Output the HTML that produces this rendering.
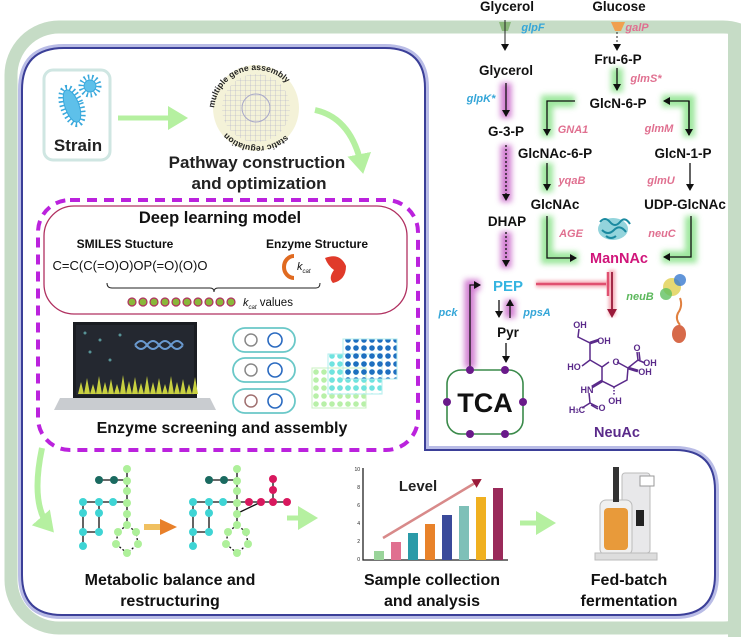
<!DOCTYPE html>
<html><head><meta charset="utf-8"><style>
html,body{margin:0;padding:0;background:#fff;width:741px;height:641px;overflow:hidden}
svg{display:block}
text{font-family:"Liberation Sans",Arial,sans-serif}
</style></head><body>
<svg width="741" height="641" viewBox="0 0 741 641" xmlns="http://www.w3.org/2000/svg">
<defs>
<filter id="blur" x="-50%" y="-50%" width="200%" height="200%"><feGaussianBlur stdDeviation="3"/></filter>
<filter id="blur2" x="-50%" y="-50%" width="200%" height="200%"><feGaussianBlur stdDeviation="1.5"/></filter>
<marker id="ah" markerWidth="8" markerHeight="8" refX="6" refY="4" orient="auto" markerUnits="userSpaceOnUse"><path d="M0,0 L7,4 L0,8 Z" fill="#111"/></marker>
<marker id="ahr" markerWidth="10" markerHeight="10" refX="7" refY="5" orient="auto" markerUnits="userSpaceOnUse"><path d="M0,0 L9,5 L0,10 Z" fill="#9a1a3a"/></marker>
<marker id="ahg" markerWidth="22" markerHeight="24" refX="14" refY="12" orient="auto" markerUnits="userSpaceOnUse"><path d="M0,0 L20,12 L0,24 Z" fill="#b5f0a0"/></marker>
<pattern id="grid" width="5" height="5" patternUnits="userSpaceOnUse"><path d="M0,0 H5 M0,0 V5" stroke="#a8a8c8" stroke-width="0.6"/></pattern>
<pattern id="dotsB" width="8" height="8" patternUnits="userSpaceOnUse"><circle cx="4" cy="4" r="2.8" fill="#1f6fc0"/></pattern>
<pattern id="dotsC" width="8" height="8" patternUnits="userSpaceOnUse"><circle cx="4" cy="4" r="2.8" fill="#6fe3e0"/></pattern>
<pattern id="dotsG" width="8" height="8" patternUnits="userSpaceOnUse"><circle cx="4" cy="4" r="2.8" fill="#b8f0a8"/></pattern>
<path id="arcTop" d="M214,112 A42,42 0 0 1 298,112"/>
<path id="arcBot" d="M222,100 A36,36 0 0 0 290,100"/>
</defs>

<!-- outer green frame -->
<rect x="11" y="27" width="760" height="601" rx="48" fill="none" stroke="#c6dcc6" stroke-width="13"/>
<rect x="728" y="27" width="14" height="610" fill="#c6dcc6"/>

<!-- blue frame -->
<path d="M22,90 Q22,48 64,48 L385,48 Q425,48 425,88 L425,450 L675,450 Q715,450 715,490 L715,575 Q715,615 675,615 L62,615 Q22,615 22,575 Z" fill="none" stroke="#b9bce6" stroke-width="8"/>
<path d="M22,90 Q22,48 64,48 L385,48 Q425,48 425,88 L425,450 L675,450 Q715,450 715,490 L715,575 Q715,615 675,615 L62,615 Q22,615 22,575 Z" fill="#fff" stroke="#3b3f98" stroke-width="2"/>

<!-- ===== Pathway (right) ===== -->
<g font-weight="bold" font-size="13.5" fill="#111" text-anchor="middle">
<text x="507" y="11">Glycerol</text>
<text x="619" y="11">Glucose</text>
<text x="506" y="75">Glycerol</text>
<text x="618" y="64">Fru-6-P</text>
<text x="618" y="108">GlcN-6-P</text>
<text x="506" y="136">G-3-P</text>
<text x="555" y="158">GlcNAc-6-P</text>
<text x="683" y="158">GlcN-1-P</text>
<text x="555" y="209">GlcNAc</text>
<text x="685" y="209">UDP-GlcNAc</text>
<text x="507" y="226">DHAP</text>
<text x="508" y="337">Pyr</text>
<text x="619" y="263" fill="#d0157a" font-size="14.5">ManNAc</text>
<text x="508" y="291" fill="#35b4e0" font-size="15">PEP</text>
<text x="617" y="437" fill="#5a2a8a" font-size="14.5">NeuAc</text>
</g>
<g font-weight="bold" font-style="italic" font-size="11" text-anchor="middle">
<text x="533" y="31" fill="#35a6d8">glpF</text>
<text x="637" y="31" fill="#e07090">galP</text>
<text x="646" y="82" fill="#e07090">glmS*</text>
<text x="481" y="102" fill="#35a6d8">glpK*</text>
<text x="573" y="133" fill="#e07090">GNA1</text>
<text x="659" y="132" fill="#e07090">glmM</text>
<text x="572" y="184" fill="#e07090">yqaB</text>
<text x="661" y="184" fill="#e07090">glmU</text>
<text x="571" y="237" fill="#e07090">AGE</text>
<text x="662" y="237" fill="#e07090">neuC</text>
<text x="640" y="300" fill="#5cb85c">neuB</text>
<text x="448" y="316" fill="#35a6d8">pck</text>
<text x="537" y="316" fill="#35a6d8">ppsA</text>
</g>
<!-- transporters -->
<g><path d="M499,22 L511,22 L508,31 L502,31 Z" fill="#8ab87a"/><line x1="505" y1="20" x2="505" y2="50" stroke="#222" marker-end="url(#ah)"/></g>
<g><path d="M611,22 L625,22 L621,31 L615,31 Z" fill="#f0a050"/><line x1="617" y1="32" x2="617" y2="50" stroke="#222" stroke-dasharray="2,2" marker-end="url(#ah)"/></g>

<!-- green glows -->
<g stroke="#7ee07e" stroke-width="12" fill="none" opacity="0.75" filter="url(#blur)">
<path d="M617,68 V92"/>
<path d="M575,101 H547 V137"/>
<path d="M662,101 H689 V137"/>
<path d="M547,163 V192"/>
<path d="M547,216 V258 H578"/>
<path d="M691,216 V257 H662"/>
</g>
<g stroke="#111" stroke-width="1.3" fill="none">
<path d="M617,68 V90" marker-end="url(#ah)"/>
<path d="M575,101 H547 V135" marker-end="url(#ah)"/>
<path d="M689,135 V101 H664" marker-end="url(#ah)"/>
<path d="M689,101 V135" marker-end="url(#ah)"/>
<path d="M547,163 V190" marker-end="url(#ah)"/>
<path d="M547,216 V258 H576" marker-end="url(#ah)"/>
<path d="M691,216 V257 H664" marker-end="url(#ah)"/>
<path d="M690,163 V190" marker-end="url(#ah)"/>
</g>
<!-- purple glows -->
<g stroke="#c04cc0" stroke-width="11" fill="none" opacity="0.7" filter="url(#blur)">
<path d="M506,83 V118"/>
<path d="M506,145 V202"/>
<path d="M506,232 V268"/>
<path d="M470,368 V285 H480"/>
<path d="M510,318 V300"/>
</g>
<g stroke="#111" stroke-width="1.3" fill="none">
<path d="M506,83 V116" marker-end="url(#ah)"/>
<path d="M506,145 V200" stroke-dasharray="2,2" marker-end="url(#ah)"/>
<path d="M506,232 V266" stroke-dasharray="2,2" marker-end="url(#ah)"/>
<path d="M470,368 V285 H480" marker-end="url(#ah)"/>
<path d="M510,318 V300" marker-end="url(#ah)"/>
<path d="M499,300 V317" marker-end="url(#ah)"/>
<path d="M506,343 V362" marker-end="url(#ah)"/>
</g>
<!-- red inhibition -->
<path d="M536,284 H612 M612,270 V298 M612,270 V316" stroke="#f08090" stroke-width="7" fill="none" opacity="0.6" filter="url(#blur2)"/>
<path d="M536,284 H606 M608,272 V296" stroke="#e05070" stroke-width="2.5" fill="none"/>
<path d="M612,272 V316" stroke="#9a1a3a" stroke-width="1.8" fill="none" marker-end="url(#ahr)"/>

<!-- TCA -->
<rect x="447" y="370" width="76" height="64" rx="14" fill="#fff" stroke="#3a8a4a" stroke-width="1.6"/>
<text x="485" y="412" font-size="27" font-weight="bold" text-anchor="middle" fill="#111">TCA</text>
<g fill="#6a1a8a"><circle cx="470" cy="370" r="4"/><circle cx="505" cy="370" r="4"/><circle cx="447" cy="402" r="4"/><circle cx="523" cy="402" r="4"/><circle cx="470" cy="434" r="4"/><circle cx="505" cy="434" r="4"/></g>

<!-- NeuAc structure -->
<g stroke="#5a2a8a" stroke-width="1.5" fill="none">
<path d="M609,362 L602,367 L602,381 L614,387 L627,380 L628,368 L617,362"/>
<path d="M602,367 L590,360 L590,343 L578,337 L579,329"/>
<path d="M590,360 L582,366"/>
<path d="M590,343 L599,340" stroke-width="3"/>
<path d="M628,368 L638,360 L637,352 M640,360 L639,352 M638,360 L645,363"/>
<path d="M628,368 L638,371" stroke-width="3"/>
<path d="M602,381 L592,387" stroke-width="3"/>
<path d="M614,387 L614,396" stroke-dasharray="1.5,1.5"/>
<path d="M589,393 L590,403 L598,407 M591,405 L598,409 M590,403 L582,408"/>
</g>
<g font-size="9" font-weight="bold" fill="#5a2a8a" text-anchor="middle">
<text x="580" y="328">OH</text><text x="604" y="344">OH</text><text x="574" y="370">HO</text>
<text x="616" y="365">O</text><text x="637" y="351">O</text><text x="650" y="366">OH</text><text x="645" y="375">OH</text>
<text x="587" y="393">HN</text><text x="615" y="404">OH</text><text x="602" y="411">O</text><text x="577" y="413">H<tspan font-size="6">3</tspan>C</text>
</g>

<!-- proteins -->
<g>
<ellipse cx="613" cy="229" rx="15" ry="11" fill="#3ab0c0" opacity="0.55"/>
<path d="M600,222 q5,-6 10,0 q5,6 10,0 q5,-6 10,2 M602,230 q6,6 12,0 q6,-6 12,2 M606,236 q5,4 10,0" stroke="#1a8aa0" stroke-width="2" fill="none"/>
<circle cx="672" cy="287" r="9" fill="#e0d050" opacity="0.8"/>
<circle cx="680" cy="280" r="6" fill="#3a7ad0" opacity="0.8"/>
<circle cx="666" cy="294" r="6" fill="#60c060" opacity="0.8"/>
<path d="M680,298 q3,8 -2,15 q-3,6 2,12" stroke="#e08040" stroke-width="2" fill="none"/>
<ellipse cx="679" cy="334" rx="7" ry="9" fill="#d0502a" opacity="0.85"/>
</g>

<!-- ===== Left top ===== -->
<rect x="44" y="70" width="66" height="90" rx="9" fill="#fff" stroke="#cfe6e2" stroke-width="3"/>
<g stroke="#38a8dc" fill="#5ec0ea">
<ellipse cx="72" cy="106" rx="9" ry="19" transform="rotate(-20 72 106)" stroke-width="6" stroke-dasharray="1.5,2.5" fill="none"/>
<ellipse cx="72" cy="106" rx="7" ry="17" transform="rotate(-20 72 106)" stroke-width="1"/>
<circle cx="90" cy="86" r="9" stroke-width="5" stroke-dasharray="1.5,2.5" fill="none"/>
<circle cx="90" cy="86" r="6" stroke-width="1"/>
</g>
<text x="78" y="151" font-size="17" font-weight="bold" text-anchor="middle" fill="#222">Strain</text>
<line x1="118" y1="118" x2="182" y2="118" stroke="#b5f0a0" stroke-width="5" marker-end="url(#ahg)"/>
<circle cx="256" cy="108" r="43" fill="#f4f2d8"/>
<circle cx="256" cy="108" r="34" fill="url(#grid)"/>
<circle cx="256" cy="108" r="14" fill="none" stroke="#a8a8c8"/>
<text font-size="8.5" font-weight="bold" fill="#222"><textPath href="#arcTop" startOffset="4">multiple gene assembly</textPath></text>
<text font-size="8.5" font-weight="bold" fill="#222" transform="rotate(200 256 108)"><textPath href="#arcTop" startOffset="20">static regulation</textPath></text>
<text x="257" y="168" font-size="17" font-weight="bold" text-anchor="middle" fill="#222">Pathway construction</text>
<text x="259" y="189" font-size="17" font-weight="bold" text-anchor="middle" fill="#222">and optimization</text>
<path d="M315,110 Q352,118 362,168" stroke="#b5f0a0" stroke-width="6" fill="none" marker-end="url(#ahg)"/>

<!-- dashed box -->
<rect x="38" y="200" width="380" height="250" rx="32" fill="none" stroke="#bb22dd" stroke-width="4" stroke-dasharray="10,7"/>
<rect x="44" y="206" width="363" height="108" rx="30" fill="none" stroke="#b03060" stroke-width="1.3"/>
<text x="220" y="223" font-size="16.5" font-weight="bold" text-anchor="middle" fill="#111">Deep learning model</text>
<text x="125" y="248" font-size="12" font-weight="bold" text-anchor="middle" fill="#111">SMILES Stucture</text>
<text x="317" y="248" font-size="12" font-weight="bold" text-anchor="middle" fill="#111">Enzyme Structure</text>
<text x="130" y="270" font-size="13" text-anchor="middle" fill="#111">C=C(C(=O)O)OP(=O)(O)O</text>
<path d="M294,256 A10,11 0 0 0 294,278" stroke="#e06a20" stroke-width="4" fill="none"/>
<text x="297" y="270" font-size="11" font-style="italic" fill="#111">k<tspan font-size="6" dy="3">cat</tspan></text>
<path d="M325,258 Q340,252 346,266 Q346,280 333,283 Q328,278 334,270 Q328,266 325,258 Z" fill="#e03a2a"/>
<path d="M107,283 Q107,288 112,288 L210,288 Q214,288 214,292 Q214,288 218,288 L316,288 Q320,288 320,283" stroke="#222" fill="none"/>
<g fill="#8ab83a" stroke="#b03060" stroke-width="1.2">
<circle cx="132" cy="302" r="4"/><circle cx="143" cy="302" r="4"/><circle cx="154" cy="302" r="4"/><circle cx="165" cy="302" r="4"/><circle cx="176" cy="302" r="4"/><circle cx="187" cy="302" r="4"/><circle cx="198" cy="302" r="4"/><circle cx="209" cy="302" r="4"/><circle cx="220" cy="302" r="4"/><circle cx="231" cy="302" r="4"/></g>
<text x="243" y="306" font-size="11" font-style="italic" fill="#111">k<tspan font-size="6" dy="3">cat</tspan><tspan dy="-3" font-style="normal" font-size="11.5"> values</tspan></text>

<!-- laptop -->
<rect x="73" y="322" width="124" height="76" fill="#1a1d22"/>
<rect x="76" y="325" width="118" height="70" fill="#242830"/>
<path d="M78,394 l3,-12 l3,12 l3,-16 l3,16 l3,-10 l3,10 l3,-18 l3,18 l3,-12 l3,12 l3,-15 l3,15 l3,-10 l3,10 l3,-19 l3,19 l3,-13 l3,13 l3,-17 l3,17 l3,-11 l3,11 l3,-18 l3,18 l3,-12 l3,12 l3,-16 l3,16 l3,-10 l3,10 l3,-18 l3,18 l3,-12 l3,12 l3,-15 l3,15 l3,-10 l3,10 l3,-17 l3,17 Z" fill="#c8d040"/>
<path d="M135,345 q6,-8 12,0 q6,8 12,0 q6,-8 12,0 q6,8 12,0 M135,345 q6,8 12,0 q6,-8 12,0 q6,8 12,0 q6,-8 12,0" stroke="#6a9ad0" stroke-width="2" fill="none"/>
<g fill="#7adada" opacity="0.6"><circle cx="85" cy="333" r="1.5"/><circle cx="100" cy="340" r="1.5"/><circle cx="90" cy="352" r="1.5"/><circle cx="110" cy="360" r="1.5"/><circle cx="120" cy="335" r="1.5"/></g>
<path d="M60,398 L210,398 L216,410 L54,410 Z" fill="#c9ccd0"/>
<!-- plasmids -->
<g fill="#fff" stroke="#6ac8c8" stroke-width="1.8">
<rect x="233" y="328" width="62" height="24" rx="12"/><rect x="233" y="358" width="62" height="24" rx="12"/><rect x="233" y="389" width="62" height="24" rx="12"/></g>
<g fill="none" stroke-width="1.5"><circle cx="251" cy="340" r="6" stroke="#888"/><circle cx="251" cy="370" r="6" stroke="#888"/><circle cx="251" cy="401" r="6" stroke="#a07070"/></g>
<g fill="none" stroke="#2a6ac0" stroke-width="1.6"><circle cx="275" cy="340" r="7"/><circle cx="275" cy="370" r="7"/><circle cx="275" cy="401" r="7"/></g>
<!-- plates -->
<rect x="312" y="368" width="54" height="40" fill="url(#dotsG)" stroke="#c8f0c0"/>
<rect x="328" y="354" width="54" height="40" fill="url(#dotsC)" stroke="#b0ecec"/>
<rect x="343" y="339" width="54" height="40" fill="url(#dotsB)" stroke="#b0ecec"/>
<text x="222" y="433" font-size="16" font-weight="bold" text-anchor="middle" fill="#111">Enzyme screening and assembly</text>

<!-- ===== Bottom ===== -->
<path d="M42,448 Q30,505 50,528" stroke="#b5f0a0" stroke-width="6" fill="none" marker-end="url(#ahg)"/>
<g stroke="#111" stroke-width="1.3">
<path d="M99,480 H127 M127,469 V525 M83,502 H127 M83,502 V546 M99,502 V532 M83,532 H99"/>
<path d="M127,525 L118,532 L116,544 L127,553 L138,544 L136,532 Z" fill="none" stroke-dasharray="2,2"/>
<path d="M209,480 H237 M237,469 V525 M193,502 H287 M193,502 V546 M209,502 V532 M193,532 H209 M273,479 V502 M238,513 L261,502"/>
<path d="M237,525 L228,532 L226,544 L237,553 L248,544 L246,532 Z" fill="none" stroke-dasharray="2,2"/>
</g>
<g id="net">
<g fill="#aef09a"><circle cx="127" cy="469" r="4"/><circle cx="127" cy="481" r="4"/><circle cx="127" cy="491" r="4"/><circle cx="127" cy="503" r="4"/><circle cx="127" cy="514" r="4"/><circle cx="127" cy="525" r="4"/><circle cx="118" cy="532" r="4"/><circle cx="136" cy="532" r="4"/><circle cx="138" cy="544" r="4"/><circle cx="127" cy="553" r="4"/><circle cx="116" cy="544" r="4"/></g>
<g fill="#1a6a60"><circle cx="99" cy="480" r="4"/><circle cx="114" cy="480" r="4"/></g>
<g fill="#3ed4d4"><circle cx="83" cy="502" r="4"/><circle cx="99" cy="502" r="4"/><circle cx="113" cy="502" r="4"/><circle cx="83" cy="513" r="4"/><circle cx="83" cy="532" r="4"/><circle cx="83" cy="546" r="4"/><circle cx="99" cy="513" r="4"/><circle cx="99" cy="532" r="4"/></g>
</g>
<use href="#net" x="110"/>
<g fill="#d8185e"><circle cx="249" cy="502" r="4"/><circle cx="261" cy="502" r="4"/><circle cx="273" cy="502" r="4"/><circle cx="287" cy="502" r="4"/><circle cx="273" cy="490" r="4"/><circle cx="273" cy="479" r="4"/></g>
<path d="M144,527 H162" stroke="#f0c060" stroke-width="6"/><path d="M160,519 L177,527 L160,535 Z" fill="#e8802a"/>
<line x1="287" y1="518" x2="312" y2="518" stroke="#b5f0a0" stroke-width="5" marker-end="url(#ahg)"/>
<!-- chart -->
<g font-size="5" fill="#222" text-anchor="end"><text x="360" y="471">10</text><text x="360" y="489">8</text><text x="360" y="507">6</text><text x="360" y="525">4</text><text x="360" y="543">2</text><text x="360" y="561">0</text></g>
<path d="M363,468 V560 H508" stroke="#222" stroke-width="1.3" fill="none"/>
<g><rect x="374" y="551" width="10" height="9" fill="#9ad49a"/><rect x="391" y="542" width="10" height="18" fill="#e07090"/><rect x="408" y="533" width="10" height="27" fill="#2a9aa8"/><rect x="425" y="524" width="10" height="36" fill="#e8822a"/><rect x="442" y="515" width="10" height="45" fill="#3a4a9a"/><rect x="459" y="506" width="10" height="54" fill="#7ec0b8"/><rect x="476" y="497" width="10" height="63" fill="#f0b020"/><rect x="493" y="488" width="10" height="72" fill="#9a2a5a"/></g>
<line x1="383" y1="538" x2="480" y2="480" stroke="#d88a8a" stroke-width="2.5" marker-end="url(#ahr)"/>
<text x="418" y="491" font-size="15" font-weight="bold" text-anchor="middle" fill="#222">Level</text>
<line x1="520" y1="523" x2="550" y2="523" stroke="#b5f0a0" stroke-width="5" marker-end="url(#ahg)"/>
<!-- fermenter -->
<rect x="622" y="473" width="28" height="80" rx="3" fill="#e8e8ea" stroke="#bbb"/>
<rect x="640" y="476" width="14" height="10" fill="#fff" stroke="#999"/>
<rect x="600" y="500" width="32" height="55" rx="6" fill="#f0f0f0" stroke="#bbb"/>
<rect x="604" y="508" width="24" height="42" rx="4" fill="#e89a3a"/>
<rect x="613" y="467" width="6" height="35" fill="#333"/>
<rect x="595" y="553" width="62" height="7" fill="#ddd" stroke="#bbb"/>
<rect x="636" y="510" width="8" height="16" fill="#222"/>

<g font-size="16" font-weight="bold" text-anchor="middle" fill="#111">
<text x="170" y="585">Metabolic balance and</text><text x="170" y="606">restructuring</text>
<text x="432" y="585">Sample collection</text><text x="432" y="606">and analysis</text>
<text x="629" y="585">Fed-batch</text><text x="629" y="606">fermentation</text>
</g>
</svg>
</body></html>
